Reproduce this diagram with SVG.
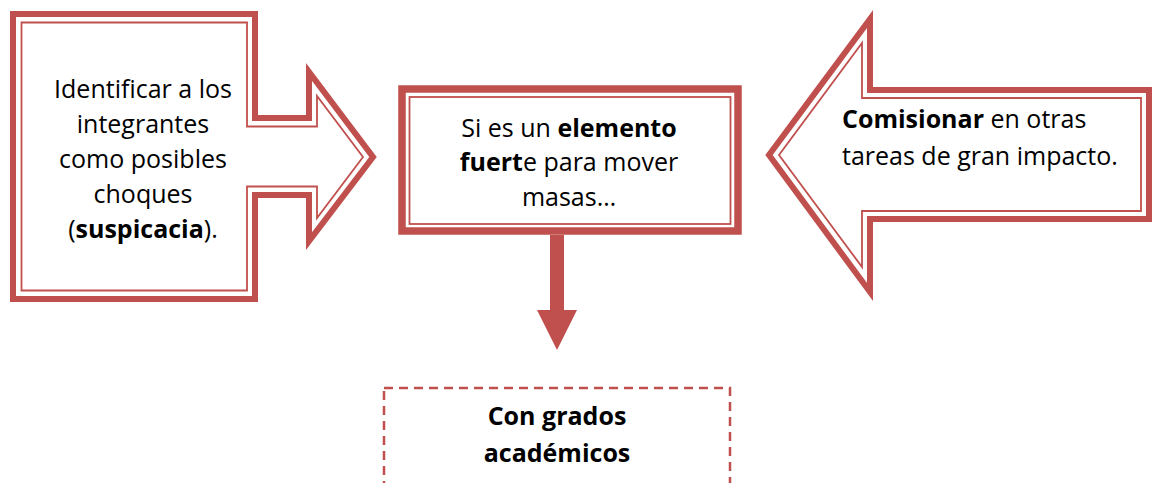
<svg xmlns="http://www.w3.org/2000/svg" width="1152" height="483" viewBox="0 0 1152 483">
<style>
.outer{fill:#fff;stroke:#c0504d;stroke-width:6;stroke-linejoin:miter;stroke-miterlimit:10}
.inner{fill:none;stroke:#c0504d;stroke-width:1.8;stroke-miterlimit:10}
.t{font-family:"Open Sans","Liberation Sans",sans-serif;font-size:25px;fill:#000}
.b{font-weight:bold}
.fill{fill:#c0504d}
</style>
<rect width="1152" height="483" fill="#fff"/>
<g id="left-node">
<path class="outer" d="M13,14 H255 V118 H309 V72 L373,157 L309,241 V195 H255 V299 H13 Z"/>
<path class="inner" d="M21.5,22.5 H247 V126.5 H317 V96 L363,157 L317,218 V186.5 H247 V290.5 H21.5 Z"/>
<text class="t" text-anchor="middle"><tspan x="143" y="98">Identificar a los</tspan><tspan x="143" y="133">integrantes</tspan><tspan x="143" y="168">como posibles</tspan><tspan x="143" y="203">choques</tspan><tspan x="143" y="238">(<tspan class="b">suspicacia</tspan>).</tspan></text>
</g>
<g id="center-node">
<rect class="outer" x="402" y="89" width="336" height="142" style="stroke-width:7.5"/>
<rect class="inner" x="409.5" y="97" width="321" height="127"/>
<text class="t" text-anchor="middle"><tspan x="569" y="137">Si es un <tspan class="b">elemento</tspan></tspan><tspan x="569" y="171"><tspan class="b">fuert</tspan>e para mover</tspan><tspan x="569" y="206">masas…</tspan></text>
</g>
<g id="right-node">
<path class="outer" d="M1149,90 H870 V19 L769,155 L870,292 V219 H1149 Z"/>
<path class="inner" d="M1141,98 H862 V43 L779,155 L862,267 V211 H1141 Z"/>
<text class="t"><tspan x="842" y="128"><tspan class="b">Comisionar</tspan> en otras</tspan><tspan x="842" y="165">tareas de gran impacto.</tspan></text>
</g>
<g id="connectors">
<rect class="fill" x="550" y="235" width="14" height="76"/>
<polygon class="fill" points="537,310 577,310 557,350"/>
</g>
<g id="bottom-node">
<rect x="384" y="388" width="346" height="200" fill="none" stroke="#c0504d" stroke-width="2.5" stroke-dasharray="9 6"/>
<text class="t b" text-anchor="middle"><tspan x="557" y="425">Con grados</tspan><tspan x="557" y="462">académicos</tspan></text>
</g>
</svg>
